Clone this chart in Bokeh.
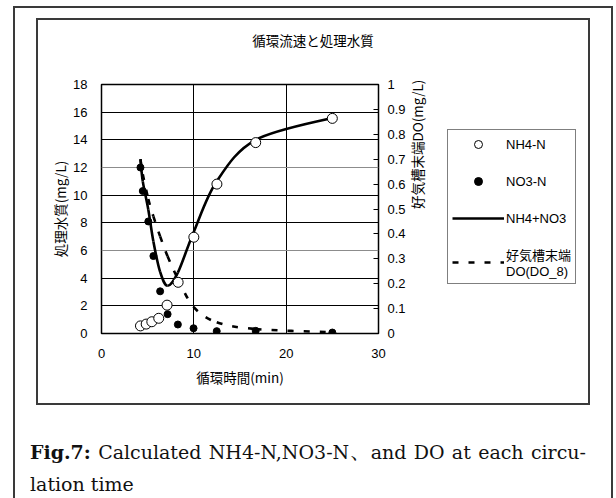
import math
from bokeh.plotting import figure
from bokeh.layouts import column, row
from bokeh.models import (Range1d, LinearAxis, FixedTicker, Grid, Legend, LegendItem,
                          ColumnDataSource, Div)
from bokeh.embed import file_html
from bokeh.resources import INLINE

# ---------------- data ----------------
time_min = [4.22, 4.47, 5.07, 5.62, 6.35, 7.16, 8.27, 9.97, 12.48, 16.7, 25.0]
no3_n = [12.0, 10.3, 8.1, 5.6, 3.05, 1.4, 0.65, 0.38, 0.17, 0.19, 0.07]
nh4_no3 = [12.6, 11.0, 8.95, 6.65, 4.45, 3.45, 4.4, 7.3, 11.0, 14.0, 15.6]
do_8 = [0.70, 0.64, 0.54, 0.47, 0.39, 0.31, 0.22, 0.107, 0.045, 0.018, 0.005]
nh4_time = [4.22, 4.84, 5.45, 6.2, 7.1, 8.3, 10.0, 12.5, 16.7, 25.0]
nh4_n = [0.55, 0.68, 0.85, 1.1, 2.05, 3.7, 6.96, 10.8, 13.8, 15.55]

x_ticks = [0, 10, 20, 30]
left_ticks = [0, 2, 4, 6, 8, 10, 12, 14, 16, 18]
right_ticks = [0, 0.1, 0.2, 0.3, 0.4, 0.5, 0.6, 0.7, 0.8, 0.9, 1]
grid_dark = [2, 4, 8, 10, 14, 16]
grid_light = [6, 12]
x_grid = [10, 20]

title = "循環流速と処理水質"
x_label = "循環時間(min)"
y_label = "処理水質(mg/L)"
y2_label = "好気槽末端DO(mg/L)"
series_names = ["NH4-N", "NO3-N", "NH4+NO3", "好気槽末端\nDO(DO_8)"]
caption_bold = "Fig.7:"
caption_line1 = "Calculated NH4-N,NO3-N、and DO at each circu-"
caption_line2 = "lation time"

JP = "Noto Sans CJK JP"
LAT = "Liberation Sans"
BORDER = "2px solid #3a3a3a"

SOLID = dict(line_color="black", line_width=2.6)
DASHED = dict(line_color="black", line_width=2.6, line_dash="6 10")
OPEN_DOT = dict(marker="circle", size=10, fill_color="white", line_color="black", line_width=1)
FILLED_DOT = dict(marker="circle", size=7, fill_color="black", line_color="black")


def smooth_segments(xs, ys):
    """Cubic Bezier control points (Catmull-Rom style); bokeh's bezier glyph draws the curve."""
    n = len(xs)
    d = dict(x0=[], y0=[], x1=[], y1=[], cx0=[], cy0=[], cx1=[], cy1=[])
    for i in range(n - 1):
        xa, ya = (xs[i - 1], ys[i - 1]) if i > 0 else (xs[i], ys[i])
        xb, yb = (xs[i + 2], ys[i + 2]) if i + 2 < n else (xs[i + 1], ys[i + 1])
        d["x0"].append(xs[i]); d["y0"].append(ys[i])
        d["x1"].append(xs[i + 1]); d["y1"].append(ys[i + 1])
        d["cx0"].append(xs[i] + (xs[i + 1] - xa) / 6.0)
        d["cy0"].append(ys[i] + (ys[i + 1] - ya) / 6.0)
        d["cx1"].append(xs[i + 1] - (xb - xs[i]) / 6.0)
        d["cy1"].append(ys[i + 1] - (yb - ys[i]) / 6.0)
    return ColumnDataSource(d)


# ---------------- chart ----------------
p = figure(width=402, height=343, x_range=Range1d(0, 30), y_range=Range1d(0, 18),
           output_backend="svg", toolbar_location=None,
           min_border_left=63, min_border_right=62, min_border_top=24, min_border_bottom=70,
           background_fill_color="white", border_fill_color="white")
p.extra_y_ranges = {"do": Range1d(0, 1)}
p.outline_line_color = "black"
p.outline_line_width = 1.5

p.xaxis.ticker = FixedTicker(ticks=x_ticks)
p.yaxis.ticker = FixedTicker(ticks=left_ticks)
for ax in (p.xaxis[0], p.yaxis[0]):
    ax.axis_line_color = None
    ax.major_tick_line_color = None
    ax.minor_tick_line_color = None
    ax.major_label_text_font = LAT
    ax.major_label_text_font_size = "13px"
    ax.major_label_text_color = "black"
    ax.axis_label_text_font = JP
    ax.axis_label_text_font_size = "13.5px"
    ax.axis_label_text_font_style = "normal"
    ax.axis_label_text_color = "black"
p.xaxis.axis_label = x_label
p.yaxis.axis_label = y_label
p.xaxis.major_label_standoff = 9
p.xaxis.axis_label_standoff = 6
p.yaxis.major_label_standoff = 8
p.yaxis.axis_label_standoff = 0

ry = LinearAxis(y_range_name="do", ticker=FixedTicker(ticks=right_ticks),
                axis_label=y2_label)
ry.major_label_overrides = {0: "0", 1: "1"}
ry.axis_line_color = None
ry.major_tick_in = 5
ry.major_tick_out = 0
ry.major_tick_line_color = "black"
ry.minor_tick_line_color = None
ry.major_label_text_font = LAT
ry.major_label_text_font_size = "13px"
ry.major_label_text_color = "black"
ry.major_label_standoff = 9
ry.axis_label_text_font = JP
ry.axis_label_text_font_size = "13.5px"
ry.axis_label_text_font_style = "normal"
ry.axis_label_text_color = "black"
ry.axis_label_standoff = 8
try:
    ry.axis_label_orientation = math.pi / 2
except AttributeError:
    pass
p.add_layout(ry, "right")

p.xgrid.ticker = FixedTicker(ticks=x_grid)
p.xgrid.grid_line_color = "black"
p.ygrid.ticker = FixedTicker(ticks=grid_dark)
p.ygrid.grid_line_color = "black"
p.add_layout(Grid(dimension=1, ticker=FixedTicker(ticks=grid_light), grid_line_color="#8c8c8c"))

p.bezier(source=smooth_segments(time_min, nh4_no3), x0="x0", y0="y0", x1="x1", y1="y1",
         cx0="cx0", cy0="cy0", cx1="cx1", cy1="cy1", **SOLID)
p.bezier(source=smooth_segments(time_min, do_8), x0="x0", y0="y0", x1="x1", y1="y1",
         cx0="cx0", cy0="cy0", cx1="cx1", cy1="cy1", y_range_name="do", **DASHED)
p.scatter(time_min, no3_n, **FILLED_DOT)
p.scatter(nh4_time, nh4_n, **OPEN_DOT)

# ---------------- legend panel (own small figure; its renderers are hidden) ----------------
lf = figure(width=137, height=343, x_range=Range1d(0, 30), y_range=Range1d(0, 18),
            output_backend="svg", toolbar_location=None,
            x_axis_location=None, y_axis_location=None,
            min_border_left=0, min_border_right=0, min_border_top=24, min_border_bottom=70,
            background_fill_color="white", border_fill_color="white")
lf.outline_line_color = None
lf.grid.visible = False
k_nh4 = lf.scatter(nh4_time, nh4_n, visible=False, **OPEN_DOT)
k_no3 = lf.scatter(time_min, no3_n, visible=False, **FILLED_DOT)
k_sum = lf.line(time_min, nh4_no3, visible=False, **SOLID)
k_do = lf.line(time_min, do_8, visible=False, **DASHED)
legend = Legend(items=[LegendItem(label=series_names[0], renderers=[k_nh4], index=0),
                       LegendItem(label=series_names[1], renderers=[k_no3], index=0),
                       LegendItem(label=series_names[2], renderers=[k_sum]),
                       LegendItem(label=series_names[3], renderers=[k_do])],
                location=(7, 49), glyph_width=52, glyph_height=20, label_height=20,
                label_standoff=2, spacing=17, padding=4, margin=0,
                label_text_font=LAT + ", " + JP, label_text_font_size="13px",
                label_text_line_height=1.05,
                label_text_color="black", inactive_fill_alpha=0,
                border_line_color="black", border_line_width=1, background_fill_alpha=1)
lf.add_layout(legend)

# ---------------- framing, title and caption ----------------
title_div = Div(width=550, height=40, margin=0,
                text=(f'<div style="font-family: \'{JP}\'; font-size: 13.5px; line-height: 40px; '
                      f'color: black; text-align: center; width: 550px;">{title}</div>'))

inner = column(title_div, row(p, lf), margin=(10, 21, 0, 21), styles={"border": BORDER})

cap_style = ("font-family: 'DejaVu Serif', 'Noto Serif CJK JP', serif; font-size: 19px; "
             "line-height: 32px; color: #111111; margin: 0; padding: 0; white-space: nowrap;")
cap = Div(width=556, height=64, margin=(31, 0, 0, 15),
          text=(f'<div style="{cap_style} text-align: justify; text-align-last: justify; width: 556px; '
                f'white-space: normal;">'
                f'<b>{caption_bold}</b> {caption_line1}</div>'
                f'<div style="{cap_style}">{caption_line2}</div>'))

page = column(inner, cap, margin=(6, 0, 0, 13),
              styles={"border-left": BORDER, "border-right": BORDER, "border-top": BORDER,
                      "background": "white"})

open("out.html", "w").write(file_html(page, INLINE))
